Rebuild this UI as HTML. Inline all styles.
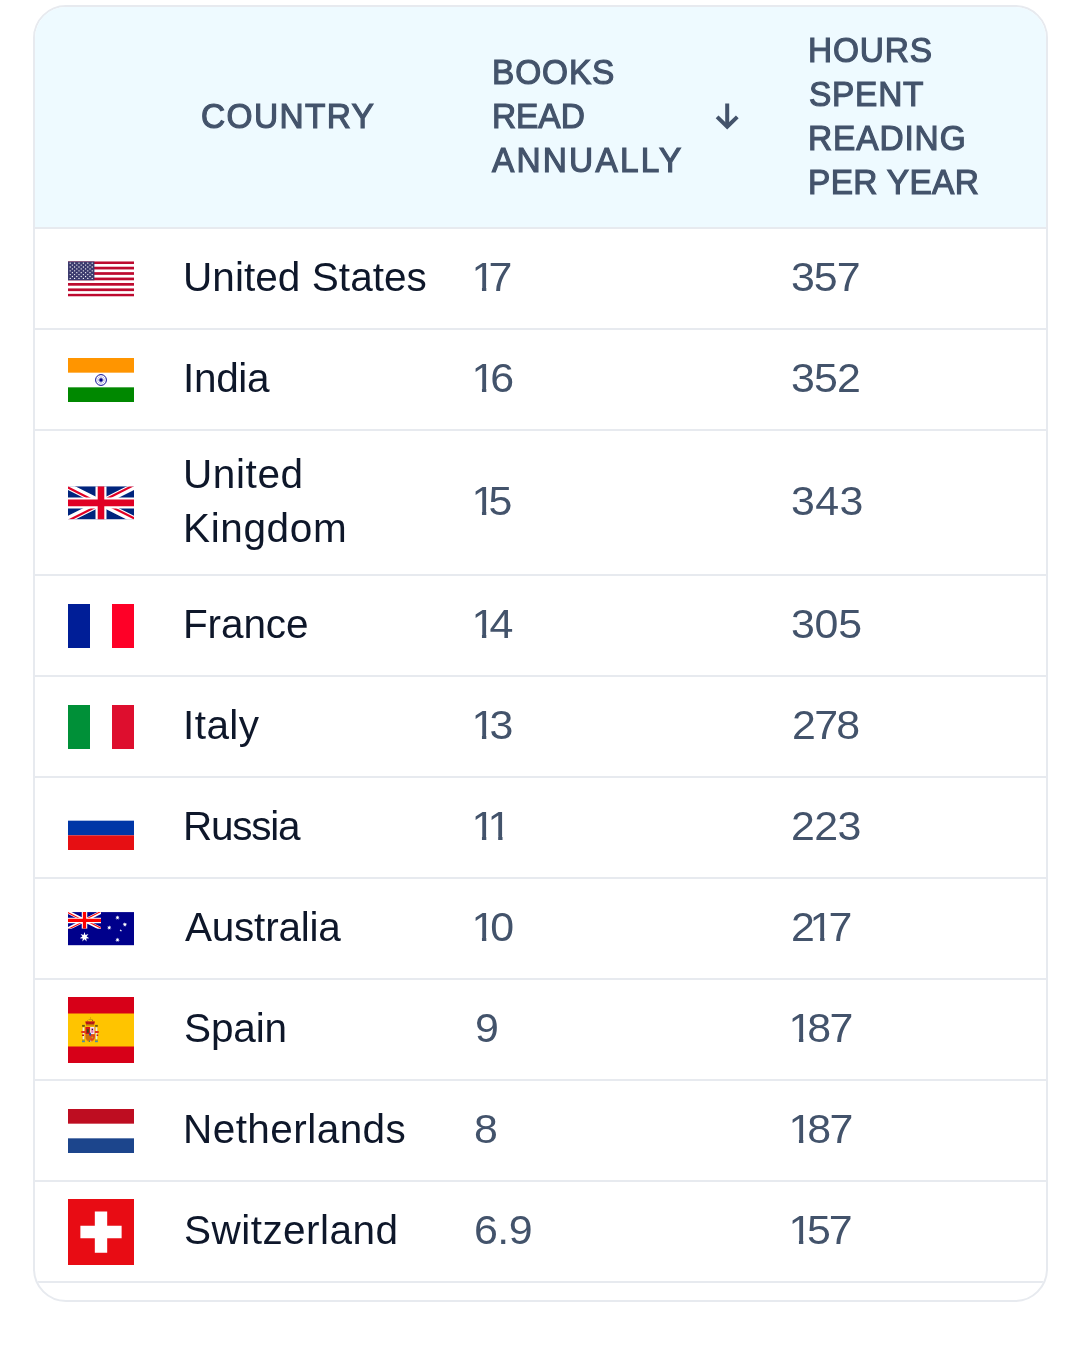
<!DOCTYPE html>
<html lang="en"><head><meta charset="utf-8">
<title>Books read annually by country</title>
<style>
html,body{margin:0;padding:0;background:#fff}
body{width:1079px;height:1363px;position:relative;overflow:hidden;font-family:"Liberation Sans",Arial,sans-serif}
.card{position:absolute;left:33px;top:5px;width:1011px;height:1293px;border:2px solid #e7eaef;border-radius:33px;overflow:hidden;background:#fff}
.head{position:absolute;left:0;top:0;width:1011px;height:220px;background:#eefaff}
.ln{position:absolute;left:0;width:1011px;height:2px;background:#e7eaef}
.t{position:absolute;white-space:nowrap;display:block}
.n{font-size:40.5px;line-height:55px;color:#0e172a}
.v{font-size:40.5px;line-height:55px;color:#43536b;transform:scaleX(1.06);transform-origin:0 0}
.h{font-size:35.2px;line-height:44px;color:#43536b;font-weight:400;-webkit-text-stroke:1.2px #43536b;transform:scaleX(0.95);transform-origin:0 0}
.o{display:inline-block;margin-left:-3.4px;margin-right:-3.1px;clip-path:polygon(0 0,100% 0,100% 37.5px,14.05px 37.5px,14.05px 100%,9.95px 100%,9.95px 37.5px,0 37.5px)}
.fl{position:absolute;left:33px;display:block}
.arrow{position:absolute;left:0;top:0}
</style></head><body>
<div class="card">
<div class="head"></div>
<div class="ln" style="top:220px"></div>
<span class="t h" id="h_country" style="left:166.00px;top:87.00px;letter-spacing:1.445px">COUNTRY</span>
<span class="t h" id="h_books" style="left:457.00px;top:43.00px;letter-spacing:0.908px">BOOKS</span>
<span class="t h" id="h_read" style="left:457.00px;top:87.00px;letter-spacing:-0.038px">READ</span>
<span class="t h" id="h_annually" style="left:457.00px;top:131.00px;letter-spacing:2.290px">ANNUALLY</span>
<span class="t h" id="h_hours" style="left:773.00px;top:21.00px;letter-spacing:0.872px">HOURS</span>
<span class="t h" id="h_spent" style="left:774.00px;top:65.00px;letter-spacing:0.801px">SPENT</span>
<span class="t h" id="h_reading" style="left:773.00px;top:109.00px;letter-spacing:0.934px">READING</span>
<span class="t h" id="h_peryear" style="left:773.00px;top:153.00px;letter-spacing:0.353px">PER YEAR</span>
<svg class="arrow" width="1011" height="220" viewBox="35 7 1011 220" fill="none" stroke="#43536b" stroke-width="4"><path d="M727.2 103.5V126.5"/><path d="M717.1 116.85L727.2 126.6L737.3 116.85" stroke-linejoin="miter"/></svg>
<svg class="fl" style="top:254px" width="66" height="36"><svg y="0.3" width="66" height="35.25" preserveAspectRatio="none" viewBox="0 0 66 35.20"><rect width="66" height="35.20" fill="#fff"/><rect y="0.000" width="66" height="2.708" fill="#bd0a2f"/><rect y="5.415" width="66" height="2.708" fill="#bd0a2f"/><rect y="10.831" width="66" height="2.708" fill="#bd0a2f"/><rect y="16.246" width="66" height="2.708" fill="#bd0a2f"/><rect y="21.662" width="66" height="2.708" fill="#bd0a2f"/><rect y="27.077" width="66" height="2.708" fill="#bd0a2f"/><rect y="32.492" width="66" height="2.708" fill="#bd0a2f"/><rect width="26.4" height="18.954" fill="#3c3b6e"/><circle cx="2.20" cy="1.90" r="0.66" fill="#fff"/><circle cx="6.60" cy="1.90" r="0.66" fill="#fff"/><circle cx="11.00" cy="1.90" r="0.66" fill="#fff"/><circle cx="15.40" cy="1.90" r="0.66" fill="#fff"/><circle cx="19.80" cy="1.90" r="0.66" fill="#fff"/><circle cx="24.20" cy="1.90" r="0.66" fill="#fff"/><circle cx="4.40" cy="3.79" r="0.66" fill="#fff"/><circle cx="8.80" cy="3.79" r="0.66" fill="#fff"/><circle cx="13.20" cy="3.79" r="0.66" fill="#fff"/><circle cx="17.60" cy="3.79" r="0.66" fill="#fff"/><circle cx="22.00" cy="3.79" r="0.66" fill="#fff"/><circle cx="2.20" cy="5.69" r="0.66" fill="#fff"/><circle cx="6.60" cy="5.69" r="0.66" fill="#fff"/><circle cx="11.00" cy="5.69" r="0.66" fill="#fff"/><circle cx="15.40" cy="5.69" r="0.66" fill="#fff"/><circle cx="19.80" cy="5.69" r="0.66" fill="#fff"/><circle cx="24.20" cy="5.69" r="0.66" fill="#fff"/><circle cx="4.40" cy="7.58" r="0.66" fill="#fff"/><circle cx="8.80" cy="7.58" r="0.66" fill="#fff"/><circle cx="13.20" cy="7.58" r="0.66" fill="#fff"/><circle cx="17.60" cy="7.58" r="0.66" fill="#fff"/><circle cx="22.00" cy="7.58" r="0.66" fill="#fff"/><circle cx="2.20" cy="9.48" r="0.66" fill="#fff"/><circle cx="6.60" cy="9.48" r="0.66" fill="#fff"/><circle cx="11.00" cy="9.48" r="0.66" fill="#fff"/><circle cx="15.40" cy="9.48" r="0.66" fill="#fff"/><circle cx="19.80" cy="9.48" r="0.66" fill="#fff"/><circle cx="24.20" cy="9.48" r="0.66" fill="#fff"/><circle cx="4.40" cy="11.37" r="0.66" fill="#fff"/><circle cx="8.80" cy="11.37" r="0.66" fill="#fff"/><circle cx="13.20" cy="11.37" r="0.66" fill="#fff"/><circle cx="17.60" cy="11.37" r="0.66" fill="#fff"/><circle cx="22.00" cy="11.37" r="0.66" fill="#fff"/><circle cx="2.20" cy="13.27" r="0.66" fill="#fff"/><circle cx="6.60" cy="13.27" r="0.66" fill="#fff"/><circle cx="11.00" cy="13.27" r="0.66" fill="#fff"/><circle cx="15.40" cy="13.27" r="0.66" fill="#fff"/><circle cx="19.80" cy="13.27" r="0.66" fill="#fff"/><circle cx="24.20" cy="13.27" r="0.66" fill="#fff"/><circle cx="4.40" cy="15.16" r="0.66" fill="#fff"/><circle cx="8.80" cy="15.16" r="0.66" fill="#fff"/><circle cx="13.20" cy="15.16" r="0.66" fill="#fff"/><circle cx="17.60" cy="15.16" r="0.66" fill="#fff"/><circle cx="22.00" cy="15.16" r="0.66" fill="#fff"/><circle cx="2.20" cy="17.06" r="0.66" fill="#fff"/><circle cx="6.60" cy="17.06" r="0.66" fill="#fff"/><circle cx="11.00" cy="17.06" r="0.66" fill="#fff"/><circle cx="15.40" cy="17.06" r="0.66" fill="#fff"/><circle cx="19.80" cy="17.06" r="0.66" fill="#fff"/><circle cx="24.20" cy="17.06" r="0.66" fill="#fff"/></svg></svg>
<span class="t n" id="n0_0" style="left:148.00px;top:243.00px;letter-spacing:0.060px">United States</span>
<span class="t v" id="b0" style="left:440.00px;top:243.00px;letter-spacing:-3.223px"><span class="o">1</span>7</span>
<span class="t v" id="r0" style="left:756.00px;top:243.00px;letter-spacing:-1.001px">357</span>
<div class="ln" style="top:321px"></div>
<svg class="fl" style="top:351px" width="66" height="44"><svg y="0" width="66" height="44" preserveAspectRatio="none" viewBox="0 0 66 44"><rect width="66" height="44" fill="#fff"/><rect width="66" height="14.67" fill="#ff9500"/><rect y="29.33" width="66" height="14.67" fill="#008800"/><circle cx="33" cy="22" r="5.45" fill="none" stroke="#1c1c9c" stroke-width="1"/><circle cx="33" cy="22" r="1.7" fill="#000088"/><line x1="28.27" y1="20.73" x2="37.73" y2="23.27" stroke="#000088" stroke-opacity=".55" stroke-width="0.5"/><line x1="29.54" y1="18.54" x2="36.46" y2="25.46" stroke="#000088" stroke-opacity=".55" stroke-width="0.5"/><line x1="31.73" y1="17.27" x2="34.27" y2="26.73" stroke="#000088" stroke-opacity=".55" stroke-width="0.5"/><line x1="34.27" y1="17.27" x2="31.73" y2="26.73" stroke="#000088" stroke-opacity=".55" stroke-width="0.5"/><line x1="36.46" y1="18.54" x2="29.54" y2="25.46" stroke="#000088" stroke-opacity=".55" stroke-width="0.5"/><line x1="37.73" y1="20.73" x2="28.27" y2="23.27" stroke="#000088" stroke-opacity=".55" stroke-width="0.5"/></svg></svg>
<span class="t n" id="n1_0" style="left:148.00px;top:344.00px;letter-spacing:-0.316px">India</span>
<span class="t v" id="b1" style="left:440.00px;top:344.00px;letter-spacing:-1.679px"><span class="o">1</span>6</span>
<span class="t v" id="r1" style="left:756.00px;top:344.00px;letter-spacing:-0.864px">352</span>
<div class="ln" style="top:422px"></div>
<svg class="fl" style="top:479px" width="66" height="34"><svg y="0.35" width="66" height="33.15" preserveAspectRatio="none" viewBox="0 0 60 30"><clipPath id="gbs"><path d="M0,0 v30 h60 v-30 z"/></clipPath><clipPath id="gbt"><path d="M30,15 h30 v15 z v15 h-30 z h-30 v-15 z v-15 h30 z"/></clipPath><g clip-path="url(#gbs)"><path d="M0,0 v30 h60 v-30 z" fill="#00247d"/><path d="M0,0 L60,30 M60,0 L0,30" stroke="#fff" stroke-width="6"/><path d="M0,0 L60,30 M60,0 L0,30" clip-path="url(#gbt)" stroke="#e00025" stroke-width="4"/><path d="M30,0 v30 M0,15 h60" stroke="#fff" stroke-width="10"/><path d="M30,0 v30 M0,15 h60" stroke="#e00025" stroke-width="6"/></g></svg></svg>
<span class="t n" id="n2_0" style="left:148.00px;top:440.00px;letter-spacing:0.615px">United</span>
<span class="t n" id="n2_1" style="left:148.00px;top:494.00px;letter-spacing:0.633px">Kingdom</span>
<span class="t v" id="b2" style="left:440.00px;top:467.00px;letter-spacing:-3.430px"><span class="o">1</span>5</span>
<span class="t v" id="r2" style="left:756.00px;top:467.00px;letter-spacing:0.392px">343</span>
<div class="ln" style="top:567px"></div>
<svg class="fl" style="top:597px" width="66" height="44"><svg y="0" width="66" height="44" preserveAspectRatio="none" viewBox="0 0 66 44"><rect width="66" height="44" fill="#fff"/><rect width="22" height="44" fill="#001e97"/><rect x="44" width="22" height="44" fill="#fe0027"/></svg></svg>
<span class="t n" id="n3_0" style="left:148.00px;top:590.00px;letter-spacing:-0.115px">France</span>
<span class="t v" id="b3" style="left:440.00px;top:590.00px;letter-spacing:-2.267px"><span class="o">1</span>4</span>
<span class="t v" id="r3" style="left:756.00px;top:590.00px;letter-spacing:-0.284px">305</span>
<div class="ln" style="top:668px"></div>
<svg class="fl" style="top:698px" width="66" height="44"><svg y="0" width="66" height="44" preserveAspectRatio="none" viewBox="0 0 66 44"><rect width="66" height="44" fill="#fff"/><rect width="22" height="44" fill="#009038"/><rect x="44" width="22" height="44" fill="#de0e2e"/></svg></svg>
<span class="t n" id="n4_0" style="left:148.00px;top:691.00px;letter-spacing:0.443px">Italy</span>
<span class="t v" id="b4" style="left:440.00px;top:691.00px;letter-spacing:-2.252px"><span class="o">1</span>3</span>
<span class="t v" id="r4" style="left:757.00px;top:691.00px;letter-spacing:-1.632px">278</span>
<div class="ln" style="top:769px"></div>
<svg class="fl" style="top:799px" width="66" height="44"><svg y="0" width="66" height="44" preserveAspectRatio="none" viewBox="0 0 66 44"><rect width="66" height="44" fill="#fff"/><rect y="14.67" width="66" height="14.67" fill="#0036a7"/><rect y="29.33" width="66" height="14.67" fill="#e60f13"/></svg></svg>
<span class="t n" id="n5_0" style="left:148.00px;top:792.00px;letter-spacing:-1.236px">Russia</span>
<span class="t v" id="b5" style="left:440.00px;top:792.00px;letter-spacing:-0.756px"><span class="o">1</span><span class="o">1</span></span>
<span class="t v" id="r5" style="left:756.00px;top:792.00px;letter-spacing:-0.569px">223</span>
<div class="ln" style="top:870px"></div>
<svg class="fl" style="top:905px" width="66" height="34"><svg y="0.1" width="66" height="33.3" preserveAspectRatio="none" viewBox="0 0 1280 640"><rect width="1280" height="640" fill="#00008b"/><clipPath id="auc"><rect width="640" height="320"/></clipPath><clipPath id="aut"><path d="M320,160 h320 v160 z v160 h-320 z h-320 v-160 z v-160 h320 z"/></clipPath><g clip-path="url(#auc)"><path d="M0,0 L640,320 M640,0 L0,320" stroke="#fff" stroke-width="64"/><path d="M0,0 L640,320 M640,0 L0,320" clip-path="url(#aut)" stroke="#f00" stroke-width="42.7"/><path d="M320,0 v320 M0,160 h640" stroke="#fff" stroke-width="106.7"/><path d="M320,0 v320 M0,160 h640" stroke="#f00" stroke-width="64"/></g><polygon fill="#fff" points="320.00,384.00 338.53,441.53 395.06,420.14 361.63,470.50 413.59,501.36 353.38,506.62 361.65,566.49 320.00,522.70 278.35,566.49 286.62,506.62 226.41,501.36 278.37,470.50 244.94,420.14 301.47,441.53"/><polygon fill="#fff" points="960.00,487.60 968.80,515.02 995.73,504.81 979.78,528.78 1004.55,543.47 975.86,545.95 979.83,574.47 960.00,553.59 940.17,574.47 944.14,545.95 915.45,543.47 940.22,528.78 924.27,504.81 951.20,515.02"/><polygon fill="#fff" points="800.00,253.00 808.80,280.42 835.73,270.21 819.78,294.18 844.55,308.87 815.86,311.35 819.83,339.87 800.00,318.99 780.17,339.87 784.14,311.35 755.45,308.87 780.22,294.18 764.27,270.21 791.20,280.42"/><polygon fill="#fff" points="960.00,61.00 968.80,88.42 995.73,78.21 979.78,102.18 1004.55,116.87 975.86,119.35 979.83,147.87 960.00,126.99 940.17,147.87 944.14,119.35 915.45,116.87 940.22,102.18 924.27,78.21 951.20,88.42"/><polygon fill="#fff" points="1102.20,193.20 1111.00,220.62 1137.93,210.41 1121.98,234.38 1146.75,249.07 1118.06,251.55 1122.03,280.07 1102.20,259.19 1082.37,280.07 1086.34,251.55 1057.65,249.07 1082.42,234.38 1066.47,210.41 1093.40,220.62"/><polygon fill="#fff" points="1024.00,325.30 1030.00,343.75 1049.39,343.75 1033.70,355.15 1039.69,373.60 1024.00,362.20 1008.31,373.60 1014.30,355.15 998.61,343.75 1018.00,343.75"/></svg></svg>
<span class="t n" id="n6_0" style="left:150.00px;top:893.00px;letter-spacing:-0.222px">Australia</span>
<span class="t v" id="b6" style="left:440.00px;top:893.00px;letter-spacing:-1.771px"><span class="o">1</span>0</span>
<span class="t v" id="r6" style="left:756.00px;top:893.00px;letter-spacing:-1.632px">2<span class="o">1</span>7</span>
<div class="ln" style="top:971px"></div>
<svg class="fl" style="top:990px" width="66" height="66"><svg y="0" width="66" height="66" preserveAspectRatio="none" viewBox="0 0 66 66"><rect width="66" height="66" fill="#d70018"/><rect y="16.5" width="66" height="33" fill="#ffc400"/><g><rect x="22.1" y="20" width=".8" height="2.6" fill="#d9a300"/><rect x="20.6" y="22.1" width="3.8" height=".9" fill="#c79a10"/><circle cx="19.6" cy="23.4" r=".45" fill="#8a7a20"/><circle cx="24.6" cy="23.4" r=".55" fill="#7a6a18"/><path d="M17.2 24.6q2.4-.9 4.9 0 2.5-.9 4.9 0l-.9 3.1h-8z" fill="#c4121c"/><path d="M18.6 25.2l1.2 1.4M25.4 25.2l-1.2 1.4M22.1 24.8v2" stroke="#6e3a10" stroke-width=".7" fill="none"/><rect x="18" y="27.4" width="8.2" height="1.3" fill="#b8860b"/><rect x="14.1" y="27.9" width="2.7" height="1.9" fill="#6b5a12"/><rect x="27.1" y="27.9" width="2.7" height="1.9" fill="#6b5a12"/><rect x="14.7" y="30.4" width="1.5" height="12.3" fill="#e6e6ee"/><rect x="27.8" y="30.4" width="1.5" height="12.3" fill="#e6e6ee"/><rect x="14" y="42.5" width="2.9" height="1.4" fill="#a89a14"/><rect x="27" y="42.5" width="2.9" height="1.4" fill="#a89a14"/><rect x="14" y="43.8" width="2.9" height="1.4" fill="#4a8ab0"/><rect x="27" y="43.8" width="2.9" height="1.4" fill="#4a8ab0"/><path d="M13.3 34h4.3v2.1h-4.3zM26.4 34h4.3v2.1h-4.3z" fill="#e1341c"/><path d="M14 37.6h2v1.5h-2zM28.6 37.6h1.6v1.5h-1.6z" fill="#b8141c"/><path d="M17.3 29.8h9.7v10.2q0 4.2-4.85 5-4.85-.8-4.85-5z" fill="#e2781a"/><rect x="17.6" y="30" width="4.3" height="7" fill="#d01418"/><path d="M18.9 32.2h1.9v3.6h-1.9z" fill="#3b4a1a"/><rect x="22.2" y="30" width="4.2" height="7" fill="#f3eef4"/><path d="M23.2 31.2h2.2v4.6h-2.2z" fill="#e07ab0"/><circle cx="24.4" cy="32.4" r=".7" fill="#3a1a2a"/><path d="M18 37.5h3.9v6.6q-3-.9-3.9-3.4z" fill="#d97a08"/><path d="M18.6 37.5v4.4M19.9 37.5v5.6M21.2 37.5v6.3" stroke="#b85a10" stroke-width=".5" fill="none"/><path d="M22.3 37.5h4.4v2.6q0 2.8-4.4 4.2z" fill="#e0421a"/><circle cx="24.3" cy="40.4" r="1" fill="#c9a020"/><ellipse cx="22.1" cy="37.2" rx="1" ry="1.7" fill="#3344a4"/><circle cx="21.6" cy="44.3" r=".8" fill="#2f8a6a"/><circle cx="22.8" cy="44.1" r=".6" fill="#f0f0f0"/></g></svg></svg>
<span class="t n" id="n7_0" style="left:149.00px;top:994.00px;letter-spacing:-0.116px">Spain</span>
<span class="t v" id="b7" style="left:440.00px;top:994.00px;letter-spacing:0.000px">9</span>
<span class="t v" id="r7" style="left:757.00px;top:994.00px;letter-spacing:-1.612px"><span class="o">1</span>87</span>
<div class="ln" style="top:1072px"></div>
<svg class="fl" style="top:1102px" width="66" height="44"><svg y="0" width="66" height="44" preserveAspectRatio="none" viewBox="0 0 66 44"><rect width="66" height="44" fill="#fff"/><rect width="66" height="14.67" fill="#be0d21"/><rect y="29.33" width="66" height="14.67" fill="#1c458c"/></svg></svg>
<span class="t n" id="n8_0" style="left:148.00px;top:1095.00px;letter-spacing:0.444px">Netherlands</span>
<span class="t v" id="b8" style="left:439.00px;top:1095.00px;letter-spacing:0.000px">8</span>
<span class="t v" id="r8" style="left:757.00px;top:1095.00px;letter-spacing:-1.612px"><span class="o">1</span>87</span>
<div class="ln" style="top:1173px"></div>
<svg class="fl" style="top:1192px" width="66" height="66"><svg y="0" width="66" height="66" preserveAspectRatio="none" viewBox="0 0 32 32"><rect width="32" height="32" fill="#e80c14"/><path d="M13 6h6v7h7v6h-7v7h-6v-7H6v-6h7z" fill="#fff"/></svg></svg>
<span class="t n" id="n9_0" style="left:149.00px;top:1196.00px;letter-spacing:0.471px">Switzerland</span>
<span class="t v" id="b9" style="left:439.00px;top:1196.00px;letter-spacing:-0.541px">6.9</span>
<span class="t v" id="r9" style="left:757.00px;top:1196.00px;letter-spacing:-1.920px"><span class="o">1</span>57</span>
<div class="ln" style="top:1274px"></div>
</div>
</body></html>
